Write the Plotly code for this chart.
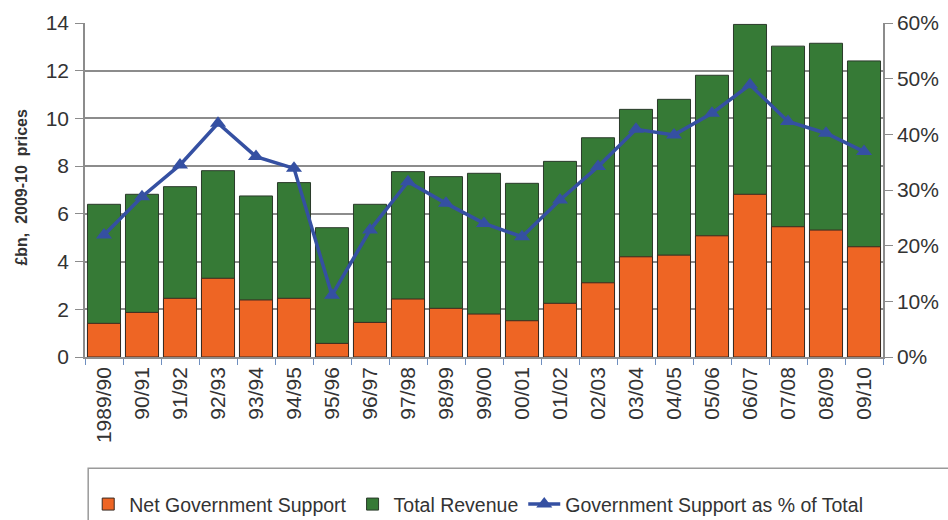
import plotly.graph_objects as go

# Financial years
years = ["1989/90", "90/91", "91/92", "92/93", "93/94", "94/95", "95/96", "96/97",
         "97/98", "98/99", "99/00", "00/01", "01/02", "02/03", "03/04", "04/05",
         "05/06", "06/07", "07/08", "08/09", "09/10"]

# £bn, 2009-10 prices
total_revenue = [6.40, 6.82, 7.14, 7.81, 6.75, 7.31, 5.42, 6.40, 7.77, 7.56, 7.70,
                 7.28, 8.20, 9.19, 10.38, 10.80, 11.81, 13.94, 13.03, 13.15, 12.41]
net_gov_support = [1.41, 1.87, 2.46, 3.30, 2.39, 2.46, 0.57, 1.45, 2.43, 2.04, 1.80,
                   1.52, 2.25, 3.11, 4.20, 4.27, 5.08, 6.82, 5.46, 5.32, 4.62]

# Government support as share of total (fraction)
support_share = [0.219, 0.288, 0.345, 0.420, 0.360, 0.339, 0.111, 0.228, 0.315, 0.276,
                 0.240, 0.216, 0.282, 0.342, 0.409, 0.399, 0.438, 0.489, 0.423, 0.402, 0.369]

ORANGE = "#EE6524"
GREEN = "#367A36"
BLUE = "#3550A2"
GRID = "#8c8c8c"
TEXT = "#333333"
FONT = "Liberation Sans, Arial, sans-serif"

fig = go.Figure()

# Total revenue first so the support segment sits on top of it
fig.add_trace(go.Bar(
    x=years, y=total_revenue, name="Total Revenue", legendrank=2,
    marker=dict(color=GREEN, line=dict(color="#2a3a2a", width=1)),
))
fig.add_trace(go.Bar(
    x=years, y=net_gov_support, name="Net Government Support", legendrank=1,
    marker=dict(color=ORANGE, line=dict(color="#3a2a20", width=1)),
))
fig.add_trace(go.Scatter(
    x=years, y=support_share, name="Government Support as % of Total",
    legendrank=3, yaxis="y2", mode="lines+markers",
    line=dict(color=BLUE, width=3.5),
    marker=dict(symbol="triangle-up", size=14, color=BLUE),
))

fig.update_layout(
    width=948, height=520,
    margin=dict(l=85, r=65, t=23, b=163, autoexpand=False),
    paper_bgcolor="white", plot_bgcolor="white",
    barmode="overlay", bargap=0.13,
    font=dict(family=FONT, color=TEXT),
    showlegend=True,
    legend=dict(
        orientation="h", traceorder="normal",
        xref="container", yref="container",
        x=0.092, xanchor="left", y=0.03, yanchor="middle",
        font=dict(size=19.5, family=FONT, color=TEXT),
        itemwidth=32, bgcolor="rgba(0,0,0,0)",
    ),
    xaxis=dict(
        type="category", tickangle=-90, automargin=False,
        range=[-0.5, len(years) - 0.5],
        tickfont=dict(size=21, family=FONT, color=TEXT),
        showline=True, linecolor=GRID, linewidth=1.5,
        ticks="outside", tickson="boundaries", ticklen=6, tickcolor="#6f8fc0",
        showgrid=False,
    ),
    yaxis=dict(
        range=[0, 14], dtick=2, automargin=False,
        tickfont=dict(size=21, family=FONT, color=TEXT),
        showline=True, linecolor=GRID, linewidth=1.5,
        ticks="outside", ticklen=8, tickcolor=GRID, ticklabelstandoff=2,
        showgrid=True, gridcolor=GRID, gridwidth=1.5,
        zeroline=False,
    ),
    yaxis2=dict(
        overlaying="y", side="right", automargin=False,
        range=[0, 0.6], dtick=0.1, tickformat=".0%",
        tickfont=dict(size=21, family=FONT, color=TEXT),
        showline=True, linecolor=GRID, linewidth=1.5,
        ticks="outside", ticklen=8, tickcolor=GRID,
        showgrid=False, zeroline=False,
    ),
)

# Left axis title
fig.add_annotation(
    text="<b>£bn,  2009-10  prices</b>", textangle=-90,
    xref="paper", yref="paper", x=-0.079, y=0.51,
    xanchor="center", yanchor="middle", showarrow=False,
    font=dict(size=16, family=FONT, color=TEXT),
)

# Frame around the legend area, running off the lower-right edge
fig.add_shape(
    type="rect", xref="paper", yref="paper",
    x0=0.004, x1=1.2, y0=-0.333, y1=-0.7,
    line=dict(color="#9a9a9a", width=1.5), fillcolor="rgba(0,0,0,0)",
    layer="below",
)

fig.write_html("out.html")
